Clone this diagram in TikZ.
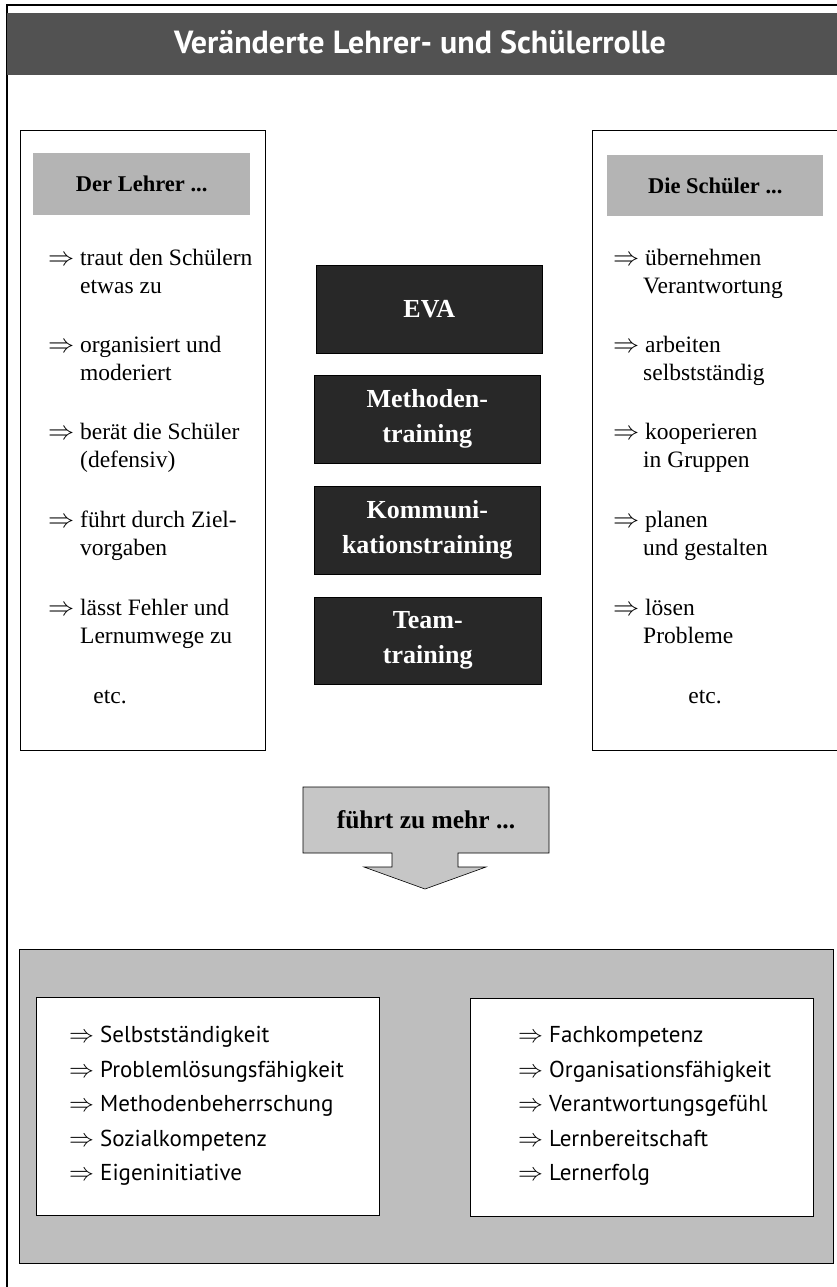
\documentclass[tikz,border=0pt]{standalone}
\usepackage{fontspec}
\setmainfont{Liberation Serif}
\newfontfamily\ptsans{PT Sans}
\definecolor{titlegray}{HTML}{525252}
\definecolor{darkbox}{HTML}{282828}
\definecolor{hdrgray}{HTML}{B4B4B4}
\definecolor{panelgray}{HTML}{BEBEBE}
\definecolor{arrowgray}{HTML}{C6C6C6}
\newcommand\myRa{\scalebox{1.05}{$\Rightarrow$}}
\newcommand\myRb{$\Rightarrow$}
\begin{document}
\begin{tikzpicture}[x=1pt,y=-1pt,
  frameline/.style={draw=black,line width=1.2pt},
  colbox/.style={draw=black,line width=0.8pt,fill=white,anchor=north west,inner sep=0pt},
  hdr/.style={fill=hdrgray,anchor=north west,inner sep=0pt,font=\bfseries\fontsize{22.5}{22.5}\selectfont},
  darkb/.style={fill=darkbox,draw=black,line width=0.5pt,anchor=north west,inner sep=0pt,
     text=white,align=center,font=\bfseries\fontsize{26}{35}\selectfont},
  item/.style={anchor=base west,inner sep=0pt,font=\fontsize{23.5}{26}\selectfont},
  bitem/.style={anchor=base west,inner sep=0pt,font=\ptsans\fontsize{23}{26}\selectfont},
  etcn/.style={anchor=base,inner sep=0pt,font=\fontsize{23.5}{26}\selectfont}]
\useasboundingbox (0,0) rectangle (837,1287);
\fill[white] (0,0) rectangle (837,1287);
% outer frame and title
\draw[frameline] (7,1300) -- (7,5) -- (845,5);
\fill[titlegray] (7,13) rectangle (845,75);
\node[anchor=base,inner sep=0pt,text=white,font=\ptsans\bfseries\fontsize{32}{32}\selectfont] (title) at (420,54) {Veränderte Lehrer- und Schülerrolle};
% side boxes
\node[colbox,minimum width=245pt,minimum height=620pt] (lbox) at (20,130) {};
\node[colbox,minimum width=245pt,minimum height=620pt] (rbox) at (592,130) {};
\node[hdr,minimum width=217pt,minimum height=62pt] (lhdr) at (33,153) {Der Lehrer ...};
\node[hdr,minimum width=216pt,minimum height=61pt] (rhdr) at (607,155) {Die Schüler ...};
% left items
\node[item] (l1a) at (48,265) {\myRa{} traut den Schülern};
\node[item] (l1b) at (80,293) {etwas zu};
\node[item] (l2a) at (48,352) {\myRa{} organisiert und};
\node[item] (l2b) at (80,380) {moderiert};
\node[item] (l3a) at (48,439) {\myRa{} berät die Schüler};
\node[item] (l3b) at (80,467) {(defensiv)};
\node[item] (l4a) at (48,527) {\myRa{} führt durch Ziel-};
\node[item] (l4b) at (80,555) {vorgaben};
\node[item] (l5a) at (48,615) {\myRa{} lässt Fehler und};
\node[item] (l5b) at (80,643) {Lernumwege zu};
\node[etcn] (letc) at (110,703) {etc.};
% right items
\node[item] (r1a) at (613,265) {\myRa{} übernehmen};
\node[item] (r1b) at (643,293) {Verantwortung};
\node[item] (r2a) at (613,352) {\myRa{} arbeiten};
\node[item] (r2b) at (643,380) {selbstständig};
\node[item] (r3a) at (613,439) {\myRa{} kooperieren};
\node[item] (r3b) at (643,467) {in Gruppen};
\node[item] (r4a) at (613,527) {\myRa{} planen};
\node[item] (r4b) at (643,555) {und gestalten};
\node[item] (r5a) at (613,615) {\myRa{} lösen};
\node[item] (r5b) at (643,643) {Probleme};
\node[etcn] (retc) at (705,703) {etc.};
% center boxes
\node[darkb,minimum width=226pt,minimum height=88pt] (eva) at (316,265) {EVA};
\node[darkb,minimum width=226pt,minimum height=88pt] (meth) at (314,375) {Methoden-\\training};
\node[darkb,minimum width=226pt,minimum height=88pt] (komm) at (314,486) {Kommuni-\\kationstraining};
\node[darkb,minimum width=227pt,minimum height=87pt] (team) at (314,597) {Team-\\training};
% arrow
\filldraw[fill=arrowgray,draw=black,line width=0.6pt]
  (303,787) -- (549,787) -- (549,853) -- (458,853) -- (458,867) -- (486,867)
  -- (425,889) -- (364,867) -- (392,867) -- (392,853) -- (303,853) -- cycle;
\node[anchor=base,inner sep=0pt,font=\bfseries\fontsize{25.5}{25.5}\selectfont] (fz) at (426,828) {führt zu mehr ...};
% bottom panel
\node[draw=black,line width=0.8pt,fill=panelgray,anchor=north west,inner sep=0pt,minimum width=814pt,minimum height=314pt] (panel) at (19,949) {};
\node[colbox,minimum width=343pt,minimum height=218pt] (bl) at (36,997) {};
\node[colbox,minimum width=343pt,minimum height=218pt] (br) at (470,998) {};
\node[bitem] (b1) at (69,1042) {\myRb{} Selbstständigkeit};
\node[bitem] (b2) at (69,1077) {\myRb{} Problemlösungsfähigkeit};
\node[bitem] (b3) at (69,1111) {\myRb{} Methodenbeherrschung};
\node[bitem] (b4) at (69,1146) {\myRb{} Sozialkompetenz};
\node[bitem] (b5) at (69,1180) {\myRb{} Eigeninitiative};
\node[bitem] (c1) at (518,1042) {\myRb{} Fachkompetenz};
\node[bitem] (c2) at (518,1077) {\myRb{} Organisationsfähigkeit};
\node[bitem] (c3) at (518,1111) {\myRb{} Verantwortungsgefühl};
\node[bitem] (c4) at (518,1146) {\myRb{} Lernbereitschaft};
\node[bitem] (c5) at (518,1180) {\myRb{} Lernerfolg};
\end{tikzpicture}
\end{document}
